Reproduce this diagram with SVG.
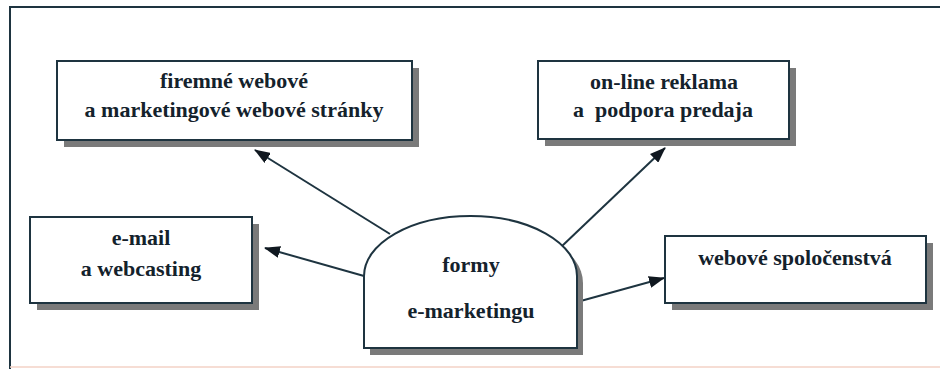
<svg xmlns="http://www.w3.org/2000/svg" width="940" height="369" viewBox="0 0 940 369">
<defs>
<marker id="arr" markerUnits="userSpaceOnUse" markerWidth="16" markerHeight="12" refX="15" refY="6" orient="auto">
<path d="M0,0 L16,6 L0,12 Z" fill="#101820"/>
</marker>
</defs>
<rect x="0" y="0" width="940" height="369" fill="#ffffff"/>
<g id="frame" fill="none">
<path d="M10,369 V7 H940" stroke="#1e3440" stroke-width="2"/>
<path d="M10,367 H940" stroke="#f3d2c6" stroke-width="1.5"/>
</g>
<g id="connectors" stroke="#1e3440" stroke-width="2" fill="none" marker-end="url(#arr)">
<line x1="390" y1="234" x2="255" y2="150"/>
<line x1="561" y1="247" x2="665" y2="148"/>
<line x1="364" y1="276" x2="265" y2="248"/>
<line x1="577" y1="302" x2="664" y2="278"/>
</g>
<g font-family="Liberation Serif" font-weight="bold" font-size="22" text-anchor="middle">
<g id="node-firemne">
<rect x="64" y="68" width="355" height="79" fill="#7a7a7a"/>
<rect x="57" y="61" width="355" height="79" fill="#ffffff" stroke="#1e3440" stroke-width="2"/>
<text x="234" y="88" fill="#14222c">firemné webové</text>
<text x="234" y="117" fill="#14222c">a marketingové webové stránky</text>
</g>
<g id="node-online">
<rect x="545" y="68" width="251" height="78" fill="#7a7a7a"/>
<rect x="538" y="61" width="251" height="78" fill="#ffffff" stroke="#1e3440" stroke-width="2"/>
<text x="664" y="89" fill="#14222c">on-line reklama</text>
<text x="663" y="117" fill="#14222c" xml:space="preserve">a  podpora predaja</text>
</g>
<g id="node-email">
<rect x="37" y="224" width="222" height="86" fill="#7a7a7a"/>
<rect x="30" y="217" width="222" height="86" fill="#ffffff" stroke="#1e3440" stroke-width="2"/>
<text x="141" y="245" fill="#14222c">e-mail</text>
<text x="141" y="276" fill="#14222c">a webcasting</text>
</g>
<g id="node-webove">
<rect x="672" y="243" width="261" height="67" fill="#7a7a7a"/>
<rect x="665" y="236" width="261" height="67" fill="#ffffff" stroke="#1e3440" stroke-width="2"/>
<text x="795" y="265" fill="#14222c">webové spoločenstvá</text>
</g>
<g id="node-formy">
<path d="M370,355 V283 A106.5,60 0 0 1 583,283 V355 Z" fill="#7a7a7a"/>
<path d="M364,348 V276 A106.5,60 0 0 1 577,276 V348 Z" fill="#ffffff" stroke="#1e3440" stroke-width="2"/>
<text x="471" y="272" fill="#14222c">formy</text>
<text x="471" y="318" fill="#14222c">e-marketingu</text>
</g>
</g>
</svg>
